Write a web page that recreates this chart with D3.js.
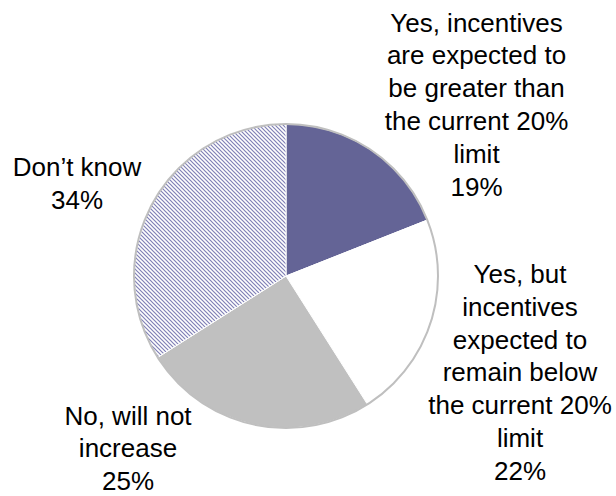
<!DOCTYPE html>
<html>
<head>
<meta charset="utf-8">
<script src="https://cdn.jsdelivr.net/npm/d3@7"></script>
<style>
  html, body { margin: 0; padding: 0; background: #ffffff; }
  svg { display: block; }
  text { font-family: "Liberation Sans", Arial, sans-serif; fill: #000; }
</style>
</head>
<body>
<svg id="chart" width="616" height="496"></svg>
<script>
// Survey answers, clockwise from 12 o'clock
const categories = [
  "Yes, incentives are expected to be greater than the current 20% limit",
  "Yes, but incentives expected to remain below the current 20% limit",
  "No, will not increase",
  "Don’t know"
];
const values = [19, 22, 25, 34];
// Label text, line by line (the percentage line is appended)
const labelLines = [
  ["Yes, incentives", "are expected to", "be greater than", "the current 20%", "limit"],
  ["Yes, but", "incentives", "expected to", "remain below", "the current 20%", "limit"],
  ["No, will not", "increase"],
  ["Don’t know"]
];
const fills = ["#646496", "#ffffff", "#c0c0c0", "url(#hatch)"];

const W = 616, H = 496;
const cx = 286, cy = 276, radius = 152;
const fontSize = 26, lineH = 32.8;
// label anchors: center x and baseline of first line
const labelPos = [
  { x: 476.5, y: 31.5 },
  { x: 520, y: 283 },
  { x: 128, y: 424.5 },
  { x: 77, y: 176 }
];

const svg = d3.select("#chart");

// diagonal hatch for the "Don't know" slice
const defs = svg.append("defs");
const pat = defs.append("pattern")
  .attr("id", "hatch")
  .attr("patternUnits", "userSpaceOnUse")
  .attr("width", 4).attr("height", 4);
pat.append("rect").attr("width", 4).attr("height", 4).attr("fill", "#ffffff");
pat.append("path")
  .attr("d", "M-1,-1 L5,5 M-1,3 L1,5 M3,-1 L5,1")
  .attr("stroke", "#8080b6")
  .attr("stroke-width", 1.2);

const pie = d3.pie().sort(null).value(d => d)
  .startAngle(0).endAngle(2 * Math.PI);
const arcs = pie(values);
const arc = d3.arc().innerRadius(0).outerRadius(radius);

const g = svg.append("g").attr("transform", `translate(${cx},${cy})`);
g.selectAll("path.slice")
  .data(arcs)
  .join("path")
  .attr("class", "slice")
  .attr("d", arc)
  .attr("fill", (d, i) => fills[i])
  .attr("stroke", "#ffffff")
  .attr("stroke-width", 1);

// outer rim
g.append("circle")
  .attr("r", radius)
  .attr("fill", "none")
  .attr("stroke", "#bfbfbf")
  .attr("stroke-width", 2);

// data labels
const labels = svg.append("g");
arcs.forEach((a, i) => {
  const lines = labelLines[i].concat([values[i] + "%"]);
  const t = labels.append("text")
    .attr("text-anchor", "middle")
    .attr("font-size", fontSize)
    .attr("x", labelPos[i].x)
    .attr("y", labelPos[i].y);
  lines.forEach((ln, k) => {
    t.append("tspan")
      .attr("x", labelPos[i].x)
      .attr("y", labelPos[i].y + k * lineH)
      .text(ln);
  });
});
</script>
</body>
</html>
